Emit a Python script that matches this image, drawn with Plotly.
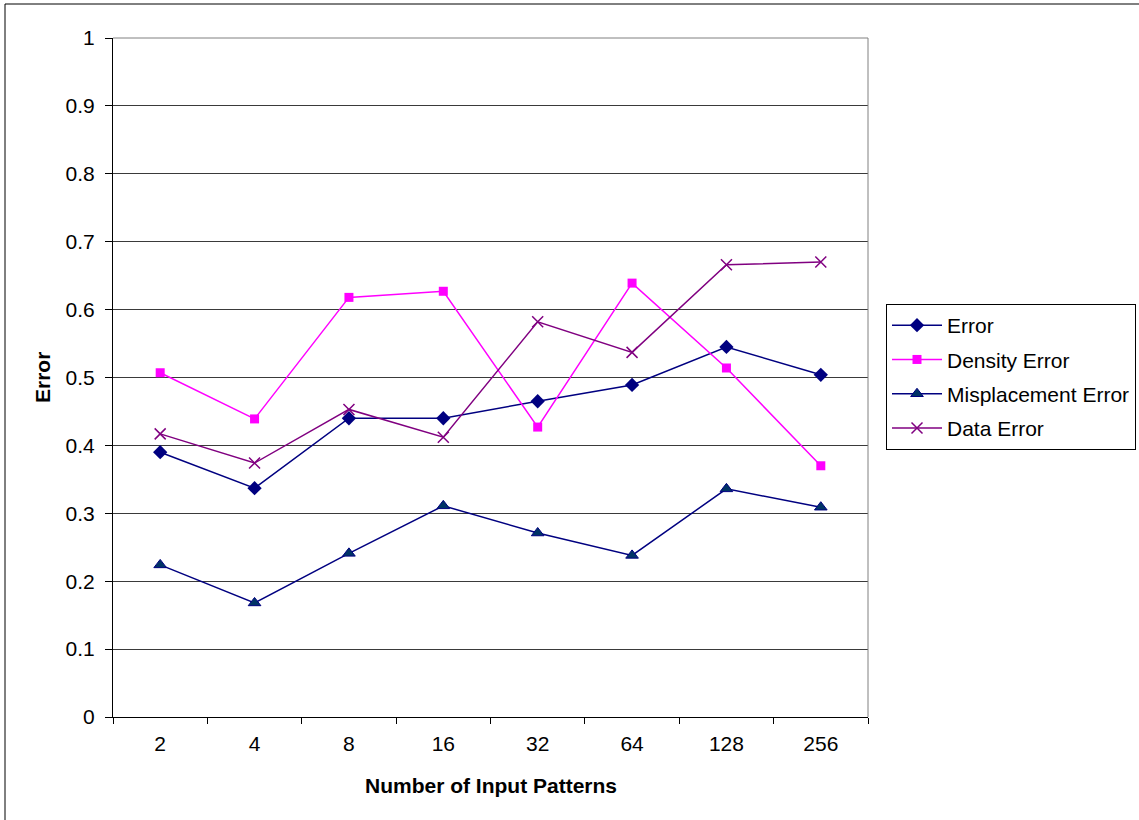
import plotly.graph_objects as go

# Number of input patterns (category axis)
patterns = ["2", "4", "8", "16", "32", "64", "128", "256"]

# Error measures per pattern count
error = [0.390, 0.337, 0.440, 0.440, 0.465, 0.489, 0.545, 0.504]
density_error = [0.507, 0.439, 0.618, 0.627, 0.427, 0.639, 0.514, 0.370]
misplacement_error = [0.224, 0.168, 0.241, 0.311, 0.271, 0.238, 0.336, 0.309]
data_error = [0.417, 0.374, 0.453, 0.412, 0.582, 0.537, 0.666, 0.670]

y_ticks = [0, 0.1, 0.2, 0.3, 0.4, 0.5, 0.6, 0.7, 0.8, 0.9, 1]
y_tick_text = ["0", "0.1", "0.2", "0.3", "0.4", "0.5", "0.6", "0.7", "0.8", "0.9", "1"]

FONT = "Liberation Sans, Arial, sans-serif"
FS = 21

fig = go.Figure()

fig.add_trace(go.Scatter(
    x=patterns, y=error, name="Error", mode="lines+markers", legendgroup="a",
    line=dict(color="#000080", width=1.5),
    marker=dict(symbol="diamond", size=11, color="#000080"),
))
fig.add_trace(go.Scatter(
    x=patterns, y=density_error, name="Density Error", mode="lines+markers", legendgroup="b",
    line=dict(color="#FF00FF", width=1.5),
    marker=dict(symbol="square", size=9, color="#FF00FF"),
))
fig.add_trace(go.Scatter(
    x=patterns, y=misplacement_error, name="Misplacement Error", mode="lines+markers",
    legendgroup="c",
    line=dict(color="#000080", width=1.5),
    marker=dict(symbol="triangle-up", size=11, color="#003366",
                line=dict(color="#000080", width=1)),
))
fig.add_trace(go.Scatter(
    x=patterns, y=data_error, name="Data Error", mode="lines+markers", legendgroup="d",
    line=dict(color="#800080", width=1.5),
    marker=dict(symbol="x-thin", size=11, color="#800080",
                line=dict(color="#800080", width=1.5)),
))

L, R, T, B = 113, 868, 38, 717
W, H = 1139, 820

def px_x(p):
    return (p - L) / (R - L)

def px_y(p):
    return (B - p) / (B - T)

fig.update_layout(
    width=W, height=H, autosize=False,
    margin=dict(l=L, r=W - R, t=T, b=H - B, pad=0, autoexpand=False),
    paper_bgcolor="white", plot_bgcolor="white",
    font=dict(family=FONT, size=FS, color="black"),
    showlegend=True,
    legend=dict(
        x=px_x(886), y=px_y(304), xanchor="left", yanchor="top",
        bordercolor="black", borderwidth=1, bgcolor="white",
        font=dict(family=FONT, size=FS, color="black"),
        tracegroupgap=4, itemwidth=50,
    ),
    xaxis=dict(
        type="category", range=[-0.5, 7.5],
        showgrid=False, showline=True, linecolor="black", linewidth=1,
        ticks="outside", tickson="boundaries", ticklen=6, tickcolor="black",
        tickfont=dict(family=FONT, size=FS), ticklabelstandoff=8,
        zeroline=False,
    ),
    yaxis=dict(
        range=[0, 1], tickvals=y_ticks, ticktext=y_tick_text,
        showgrid=True, gridcolor="#3a3a3a", gridwidth=1,
        showline=True, linecolor="black", linewidth=1,
        ticks="outside", ticklen=7, tickcolor="black",
        tickfont=dict(family=FONT, size=FS), ticklabelstandoff=6,
        zeroline=False,
    ),
    shapes=[
        # plot-area frame (top and right edges in gray)
        dict(type="line", xref="paper", yref="paper", x0=0, x1=1, y0=1, y1=1,
             line=dict(color="#808080", width=1)),
        dict(type="line", xref="paper", yref="paper", x0=1, x1=1, y0=0, y1=1,
             line=dict(color="#808080", width=1)),
        # chart outer border
        dict(type="rect", xref="paper", yref="paper",
             x0=px_x(5), x1=px_x(1150), y0=px_y(830), y1=px_y(4),
             line=dict(color="black", width=1), layer="below"),
    ],
    annotations=[
        dict(text="<b>Number of Input Patterns</b>", xref="paper", yref="paper",
             x=0.5, y=px_y(785), xanchor="center", yanchor="middle",
             showarrow=False, font=dict(family=FONT, size=FS)),
        dict(text="<b>Error</b>", xref="paper", yref="paper",
             x=px_x(42), y=px_y(378), xanchor="center", yanchor="middle",
             textangle=-90, showarrow=False, font=dict(family=FONT, size=FS)),
    ],
)

fig.write_html("out.html")
